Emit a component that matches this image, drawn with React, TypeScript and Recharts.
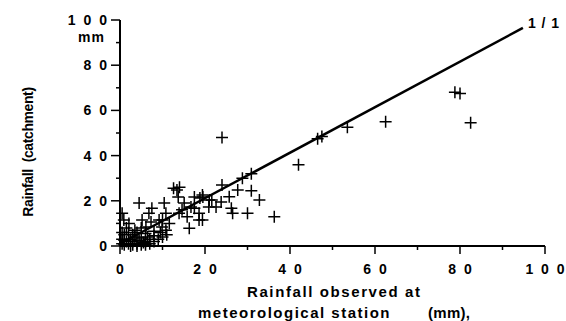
import React from 'react';
import {
  ScatterChart,
  Scatter,
  XAxis,
  YAxis,
  ReferenceLine,
  ReferenceDot,
} from 'recharts';

const FONT = '"Liberation Sans", Arial, Helvetica, sans-serif';
const COLOR_INK = '#000';

// rainfall observed at the station (mm)
const stationRain = [
  24, 42, 46.5, 47.5, 53.5, 62.5, 78.8, 80, 82.5,
  36.3, 32.8, 30.9, 30, 26.5, 27.7, 25.7, 24, 28.8, 30.9, 26.2, 23.8, 21.6, 19.5, 20.9, 18.8,
  19.4, 16.3, 21, 22.6, 17.5, 19.4, 13.4, 12.6, 14, 13.7, 4.5, 10.4, 10.8, 14.6, 15.8, 13.9,
  6.8, 5.2, 0.9, 0.5, 2.1, 9.2, 9.9, 10.8, 11.6, 18.6, 17.5, 15.1, 16.7, 7.5, 6.1, 18.6,
  10, 7.3,
  0.5, 1, 1.5, 2, 2.5, 3, 3, 3.5, 4, 4.5, 5, 5, 5.5, 6, 6.5, 7, 7, 8, 0.5, 1, 2, 3, 1.5,
  0.5, 4, 6, 8, 9, 10, 2.5, 4, 1, 6, 3.5, 5, 11, 8, 9.5,
];

// rainfall in the catchment (mm)
const catchmentRain = [
  48, 36, 47.5, 48.5, 52.5, 55, 68, 67.5, 54.5,
  12.9, 20.4, 24.5, 14.5, 14.5, 24.8, 21.8, 27, 30, 32, 16.7, 19.5, 20.4, 21.7, 17.3, 21.2,
  11.5, 7.9, 20.4, 17.3, 21.7, 22.6, 24.8, 25.5, 26, 21.7, 19, 19, 14.5, 16, 12.9, 14.5,
  14.5, 11.5, 11.5, 14.5, 10, 11.5, 8.4, 7, 10, 14.5, 16.7, 19, 17.3, 16.7, 8.4, 11.5,
  11.5, 10.6,
  1, 0.5, 2, 1, 3, 0.5, 2, 4, 1, 2.5, 0.5, 3.5, 1.5, 2, 4, 1, 3, 2, 3, 5, 6, 5, 8,
  6, 6, 5.5, 4.5, 3, 4, 0, 0, 2.5, 0.5, 7, 8, 5, 6.5, 6,
];

const points = stationRain.map((x, i) => ({ x, y: catchmentRain[i] }));

// the 1/1 line as drawn
const lineStart = { x: 0, y: 1 };
const lineEnd = { x: 94.8, y: 96.5 };

const axisTicks = [0, 10, 20, 30, 40, 50, 60, 70, 80, 90, 100];

const spaced = (v: number) => String(v).split('').join(' ');

const textStyle = {
  fontFamily: FONT,
  fontWeight: 'bold' as const,
  fill: COLOR_INK,
};

function PlusMark(props: any) {
  const { cx, cy } = props;
  if (cx == null || cy == null) return null;
  return (
    <path
      d={`M${cx - 6},${cy}H${cx + 6}M${cx},${cy - 6}V${cy + 6}`}
      stroke={COLOR_INK}
      strokeWidth={1.5}
      fill="none"
    />
  );
}

function XTick(props: any) {
  const { x, y, payload } = props;
  const major = payload.value % 20 === 0;
  return (
    <g>
      <line x1={x} x2={x} y1={y} y2={y + (major ? 8 : 4)} stroke={COLOR_INK} strokeWidth={1.5} />
      {major && (
        <text x={x + 1} y={y + 28} textAnchor="middle" fontSize={14} letterSpacing={2} {...textStyle}>
          {spaced(payload.value)}
        </text>
      )}
    </g>
  );
}

function YTick(props: any) {
  const { x, y, payload } = props;
  const major = payload.value % 20 === 0;
  return (
    <g>
      <line x1={x - (major ? 9 : 4)} x2={x} y1={y} y2={y} stroke={COLOR_INK} strokeWidth={1.5} />
      {major && (
        <text x={x - 11} y={y + 5} textAnchor="end" fontSize={14} letterSpacing={2} {...textStyle}>
          {spaced(payload.value)}
        </text>
      )}
    </g>
  );
}

function YTitle() {
  return (
    <g>
      <text
        x={28}
        y={152}
        transform="rotate(-90, 28, 152)"
        textAnchor="middle"
        dominantBaseline="central"
        fontSize={14}
        letterSpacing={-0.4}
        {...textStyle}
      >
        {'Rainfall\u00a0 (catchment)'}
      </text>
      <text x={105} y={42} textAnchor="end" fontSize={14} letterSpacing={1} {...textStyle}>
        mm
      </text>
    </g>
  );
}

function XTitle() {
  return (
    <g>
      <text x={247} y={297} fontSize={15} letterSpacing={1.6} {...textStyle}>
        Rainfall observed at
      </text>
      <text x={198} y={318} fontSize={15} letterSpacing={1.5} {...textStyle}>
        meteorological station
      </text>
      <text x={428} y={318} fontSize={15} letterSpacing={0.3} {...textStyle}>
        (mm),
      </text>
    </g>
  );
}

function OneToOneLabel(props: any) {
  const { viewBox } = props;
  if (!viewBox) return null;
  const cx = viewBox.x + viewBox.width / 2;
  const cy = viewBox.y + viewBox.height / 2;
  return (
    <text x={cx + 5} y={cy} fontSize={14} letterSpacing={1} {...textStyle}>
      1 / 1
    </text>
  );
}

export default function App() {
  return (
    <div style={{ position: 'absolute', left: 0, top: 0 }}>
      <ScatterChart width={566} height={321} margin={{ top: 20, right: 21, bottom: 0, left: 0 }}>
        <XAxis
          type="number"
          dataKey="x"
          domain={[0, 100]}
          ticks={axisTicks}
          interval={0}
          height={75}
          tickSize={0}
          tickMargin={0}
          tickLine={false}
          axisLine={{ stroke: COLOR_INK, strokeWidth: 2 }}
          tick={<XTick />}
          label={<XTitle />}
        />
        <YAxis
          type="number"
          dataKey="y"
          domain={[0, 100]}
          ticks={axisTicks}
          interval={0}
          width={120}
          tickSize={0}
          tickMargin={0}
          tickLine={false}
          axisLine={{ stroke: COLOR_INK, strokeWidth: 2 }}
          tick={<YTick />}
          label={<YTitle />}
        />
        <ReferenceLine
          segment={[lineStart, lineEnd]}
          stroke={COLOR_INK}
          strokeWidth={2.5}
        />
        <ReferenceDot
          x={lineEnd.x}
          y={lineEnd.y}
          r={1}
          fill="none"
          stroke="none"
          label={<OneToOneLabel />}
        />
        <Scatter data={points} shape={<PlusMark />} isAnimationActive={false} />
      </ScatterChart>
    </div>
  );
}
